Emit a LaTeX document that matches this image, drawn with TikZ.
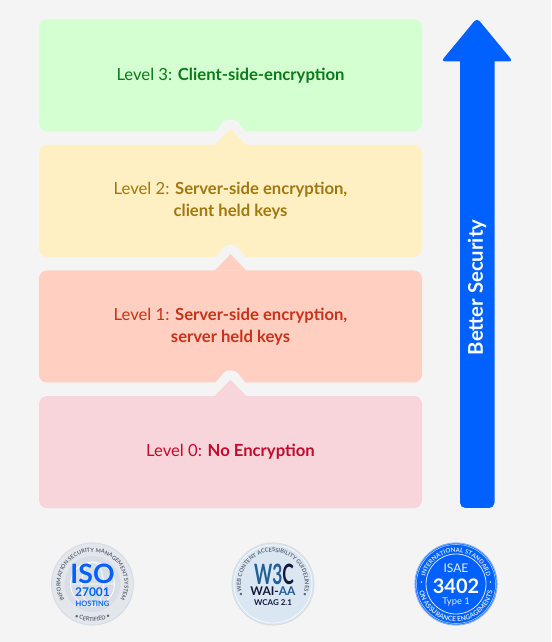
\documentclass[tikz,border=0pt]{standalone}
\usepackage{fontspec}
\setmainfont{Lato}
\usetikzlibrary{positioning,calc,decorations.text}

\definecolor{pagebg}{HTML}{F4F4F4}
\definecolor{brandblue}{HTML}{0061FF}
\definecolor{greenbox}{HTML}{D4FFD0}
\definecolor{yellowbox}{HTML}{FFF0C4}
\definecolor{orangebox}{HTML}{FFD0C2}
\definecolor{pinkbox}{HTML}{F8D5DA}
\definecolor{greentext}{HTML}{0B7A1A}
\definecolor{yellowtext}{HTML}{A07810}
\definecolor{orangetext}{HTML}{C8321A}
\definecolor{pinktext}{HTML}{C40A2E}
\definecolor{ringgrey}{HTML}{E3E7EC}
\definecolor{discgrey}{HTML}{D8DEE5}
\definecolor{discpale}{HTML}{DAE6F1}
\definecolor{inkgrey}{HTML}{5F6675}
\definecolor{inknavy}{HTML}{14193A}
\definecolor{wthree}{HTML}{1F5E96}

\begin{document}
\begin{tikzpicture}[
    x=0.75pt, y=0.75pt,
    levelbox/.style={rectangle, rounded corners=6pt, minimum width=287.25pt, minimum height=84pt, align=center, inner sep=0pt, font=\fontsize{12.5pt}{16.5pt}\selectfont},
    levelgap/.style={below=9.8pt of #1},
    badge/.style={circle, minimum size=61.5pt, inner sep=0pt},
    ringtext/.style={decorate, decoration={text along path, text align=center, text={#1}}},
]
\fill[pagebg] (0,0) rectangle (551,642);
\useasboundingbox (0,0) rectangle (551,642);

% Four levels stacked
\node[levelbox, fill=greenbox, text=greentext, anchor=north] (level3) at (230.5,623) {Level 3: \textbf{Client-side-encryption}};
\node[levelbox, fill=yellowbox, text=yellowtext, levelgap=level3] (level2) {Level 2: \textbf{Server-side encryption,}\\\textbf{client held keys}};
\node[levelbox, fill=orangebox, text=orangetext, levelgap=level2] (level1) {Level 1: \textbf{Server-side encryption,}\\\textbf{server held keys}};
\node[levelbox, fill=pinkbox, text=pinktext, levelgap=level1] (level0) {Level 0: \textbf{No Encryption}};

% Notches between levels
\foreach \upperbox/\lowerbox/\boxcol in {level3/level2/yellowbox, level2/level1/orangebox, level1/level0/pinkbox} {
    \fill[pagebg, rounded corners=2pt] ($(\upperbox.south)+(-16,-1)$) -- ($(\upperbox.south)+(-5,12)$) -- ($(\upperbox.south)+(5,12)$) -- ($(\upperbox.south)+(16,-1)$) -- cycle;
    \fill[\boxcol] ($(\lowerbox.north)+(-16,-0.5)$) -- ($(\lowerbox.north)+(0,16)$) -- ($(\lowerbox.north)+(16,-0.5)$) -- cycle;
}

% Security arrow
\fill[brandblue, rounded corners=4pt] (460,134) rectangle (494.5,590);
\fill[brandblue, rounded corners=3pt] (441,580.5) -- (477,624) -- (513,580.5) -- cycle;
\node[rotate=90, text=white, font=\fontsize{15.2pt}{17pt}\selectfont\bfseries] (secure) at (477,354.5) {Better Security};

% ISO badge
\node[badge, fill=ringgrey, draw=discgrey, line width=0.8pt] (iso) at (92.5,58) {};
\node[circle, minimum size=42pt, inner sep=0pt, fill=discgrey] (isodisc) at (iso) {};
\draw[white, line width=0.6pt] (iso) circle (22) (iso.center)+(-22,0) -- +(22,0);
\draw[white, line width=0.6pt] (iso) ellipse (11 and 22);
\path[ringtext={|\color{inkgrey}\fontsize{4.2pt}{5pt}\selectfont\bfseries|INFORMATION SECURITY MANAGEMENT SYSTEM}] ($(iso)+(212:32)$) arc[start angle=212, end angle=-32, radius=32];
\path[ringtext={|\color{inkgrey}\fontsize{4.2pt}{5pt}\selectfont\bfseries|• CERTIFIED •}] ($(iso)+(230:37.5)$) arc[start angle=230, end angle=310, radius=37.5];
\node[text=brandblue, font=\fontsize{20pt}{22pt}\selectfont\bfseries] (isoname) at (92.5,68) {ISO};
\node[text=brandblue, font=\fontsize{9pt}{10pt}\selectfont\bfseries] (isonum) at (92.5,49.5) {27001};
\node[text=brandblue, font=\fontsize{5.6pt}{6pt}\selectfont\bfseries] (isotype) at (92.5,38) {HOSTING};

% WAI badge
\node[badge, fill=discpale, draw=discgrey, line width=0.8pt] (wai) at (273,58) {};
\draw[white, line width=0.4pt] (wai) circle (39);
\path[ringtext={|\color{inkgrey}\fontsize{4.2pt}{5pt}\selectfont\bfseries|• WEB CONTENT ACCESSIBILITY GUIDELINES •}] ($(wai)+(218:32)$) arc[start angle=218, end angle=-38, radius=32];
\node[font=\fontsize{21pt}{22pt}\selectfont\bfseries] (wainame) at (274,68) {\scalebox{0.62}[1]{\textcolor{wthree}{W3}\textcolor{inknavy}{C}}};
\node[font=\fontsize{9pt}{10pt}\selectfont\bfseries] (wailevel) at (273,51) {\textcolor{inknavy}{WAI-}\textcolor{wthree}{AA}};
\node[text=inknavy, font=\fontsize{6pt}{7pt}\selectfont\bfseries] (waiwcag) at (273,39) {WCAG 2.1};

% ISAE badge
\node[badge, fill=brandblue, draw=brandblue!50, line width=0.8pt] (isae) at (456,58) {};
\draw[white!70!brandblue, line width=0.4pt] (isae) circle (39.5);
\node[circle, minimum size=45pt, inner sep=0pt, draw=white!85!brandblue, line width=0.6pt] (isaedisc) at (isae) {};
\path[ringtext={|\color{white!85!brandblue}\fontsize{4.6pt}{5pt}\selectfont\bfseries|INTERNATIONAL STANDARD}] ($(isae)+(170:31.5)$) arc[start angle=170, end angle=10, radius=31.5];
\path[ringtext={|\color{white!85!brandblue}\fontsize{5pt}{5pt}\selectfont\bfseries|ON ASSURANCE ENGAGEMENTS}] ($(isae)+(190:37.5)$) arc[start angle=190, end angle=350, radius=37.5];
\fill[white!85!brandblue] ($(isae)+(-34.5,2)$) circle (0.9) ($(isae)+(34.5,2)$) circle (0.9);
\node[text=white!90!brandblue, font=\fontsize{9pt}{10pt}\selectfont] (isaename) at (456,74) {ISAE};
\node[text=white, font=\fontsize{15pt}{16pt}\selectfont\bfseries] (isaenum) at (456,56) {3402};
\node[text=white!90!brandblue, font=\fontsize{7pt}{8pt}\selectfont] (isaetype) at (456,40) {Type 1};

\end{tikzpicture}
\end{document}
